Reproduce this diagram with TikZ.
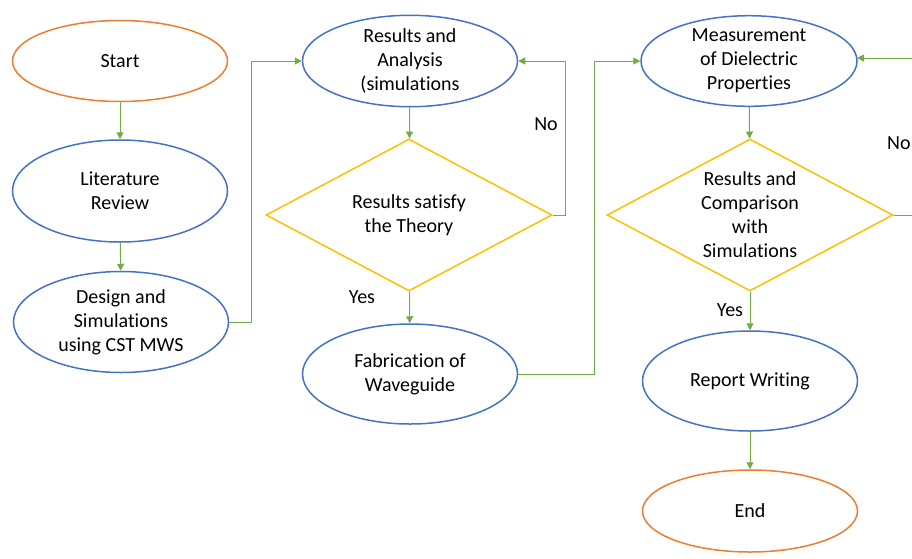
\documentclass[tikz,border=0pt]{standalone}
\usepackage{fontspec}
\setmainfont{Carlito}[Ligatures={NoCommon,NoRequired,NoContextual},RawFeature={-liga;-dlig;-clig}]
\usetikzlibrary{shapes.geometric,arrows.meta}
\definecolor{orangeC}{HTML}{ED7D31}
\definecolor{blueC}{HTML}{4472C4}
\definecolor{goldC}{HTML}{FFC000}
\definecolor{greenC}{HTML}{70AD47}
\tikzset{
  base/.style={ellipse, draw, line width=1.5pt, minimum width=215pt, minimum height=81pt, inner sep=0pt, align=center, font=\fontsize{20}{24}\selectfont},
  term/.style={base, draw=orangeC},
  proc/.style={base, draw=blueC},
  dec/.style={diamond, draw=goldC, line width=1.5pt, minimum width=286pt, minimum height=152pt, inner sep=0pt, aspect=1.88, align=center, font=\fontsize{20}{24}\selectfont},
  conn/.style={draw=greenC, line width=1pt, -{Triangle[length=7pt,width=7pt]}},
  lbl/.style={font=\fontsize{20}{24}\selectfont, inner sep=0pt}
}
\begin{document}
\begin{tikzpicture}[x=1pt,y=-1pt]
\useasboundingbox (0,0) rectangle (912,558);
\clip (0,0) rectangle (912,558);
\node[term] (start) at (120,61) {Start};
\node[proc, minimum height=102pt] (lit) at (120,191) {Literature\\Review};
\node[proc, minimum height=101pt] (design) at (121,322) {Design and\\Simulations\\using CST MWS};
\node[proc, minimum height=82pt] (res) at (410,61) {Results and\\Analysis\\(simulations};
\node[dec] (d1) at (409,215) {Results satisfy\\the Theory};
\node[proc, minimum height=100pt] (fab) at (410,374) {Fabrication of\\Waveguide};
\node[proc, minimum height=82pt, minimum width=216pt] (meas) at (749,61) {Measurement\\of Dielectric\\Properties};
\node[dec] (d2) at (750,215) {Results and\\Comparison\\with\\Simulations};
\node[proc, minimum height=100pt] (rep) at (750,381) {Report Writing};
\node[term, minimum height=82pt] (end) at (750,511) {End};
\coordinate (c1) at (251,322);
\coordinate (c2) at (251,61);
\coordinate (c3) at (565,215);
\coordinate (c4) at (565,61);
\coordinate (c5) at (594,374);
\coordinate (c6) at (594,61);
\coordinate (c7) at (915,215);
\coordinate (c8) at (915,58);
\coordinate (m8) at (857,58);
\draw[conn] (start) -- (lit);
\draw[conn] (lit) -- (design);
\draw[conn] (design.east) -- (c1) -- (c2) -- (res.west);
\draw[conn] (res) -- (d1);
\draw[conn] (d1.east) -- (c3) -- (c4) -- (res.east);
\draw[conn] (d1) -- (fab);
\draw[conn] (fab.east) -- (c5) -- (c6) -- (meas.west);
\draw[conn] (meas) -- (d2);
\draw[conn, -] (d2.east) -- (c7);
\draw[conn] (c8) -- (m8);
\draw[conn] (d2) -- (rep);
\draw[conn] (rep) -- (end);
\node[lbl] (no1) at (546,124) {No};
\node[lbl] (yes1) at (362,297) {Yes};
\node[lbl, anchor=west] (no2) at (887,143) {No};
\node[lbl] (yes2) at (730,310) {Yes};
\end{tikzpicture}
\end{document}
